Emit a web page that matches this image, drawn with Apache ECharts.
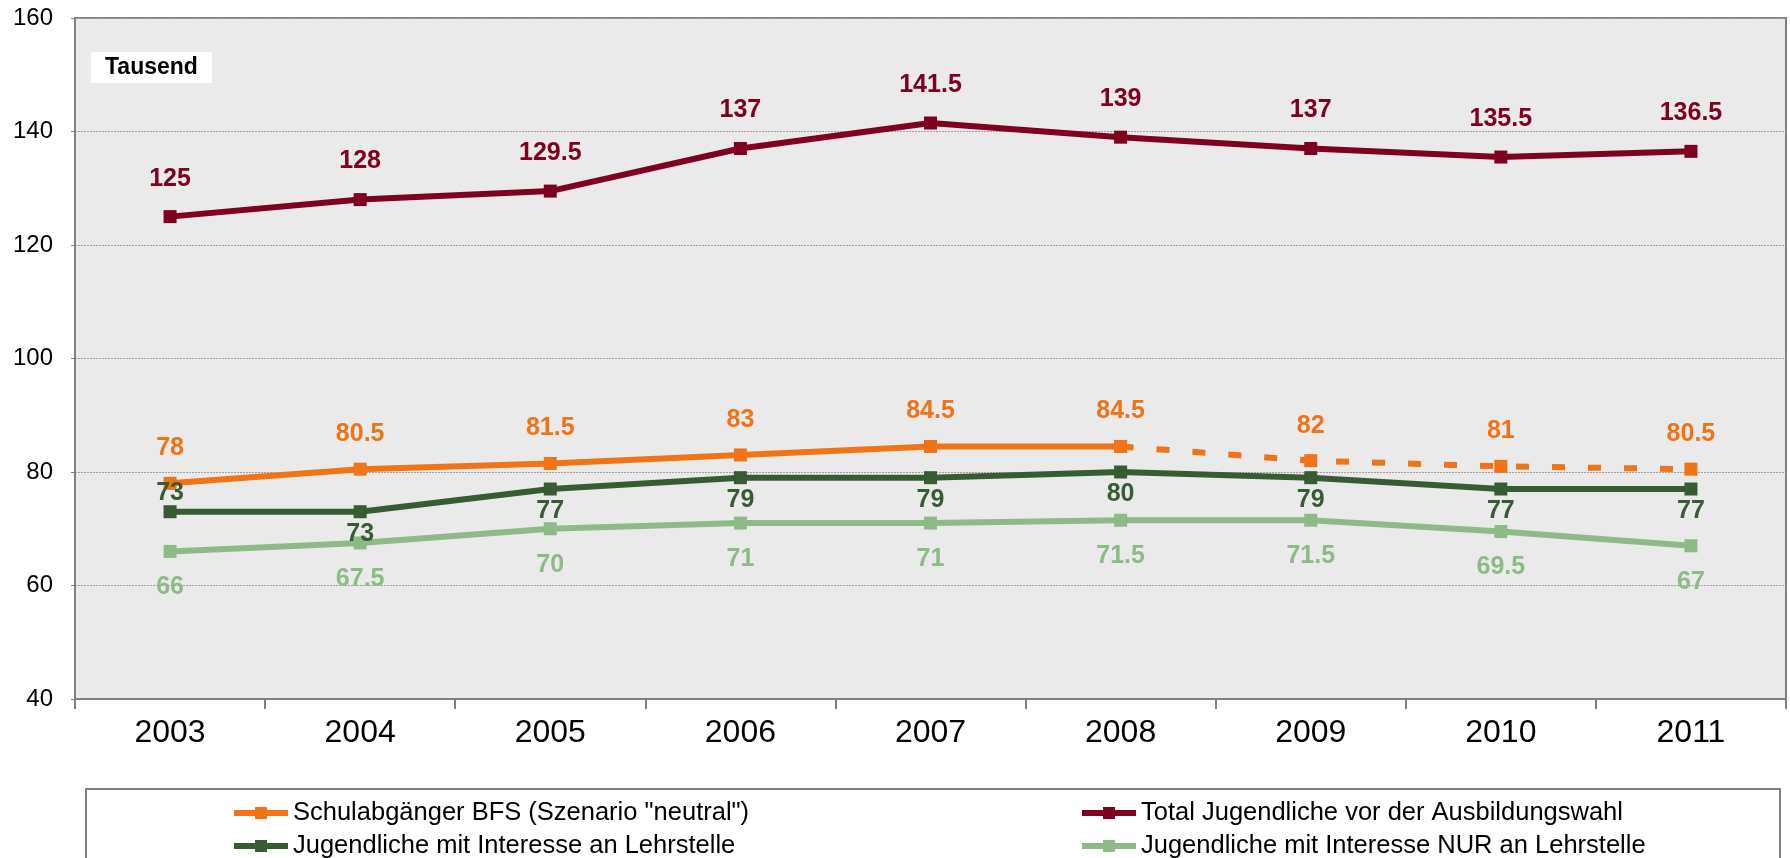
<!DOCTYPE html>
<html>
<head>
<meta charset="utf-8">
<script src="https://cdn.jsdelivr.net/npm/echarts@6/dist/echarts.min.js"></script>
<style>
  html, body { margin: 0; padding: 0; background: #fff; }
  #chart { width: 1790px; height: 858px; }
</style>
</head>
<body>
<div id="chart"></div>
<script>
// Jugendliche vor der Ausbildungswahl, in Tausend
const jahre = ['2003', '2004', '2005', '2006', '2007', '2008', '2009', '2010', '2011'];
const schulabgaenger = [78, 80.5, 81.5, 83, 84.5, 84.5, 82, 81, 80.5];
const totalJugendliche = [125, 128, 129.5, 137, 141.5, 139, 137, 135.5, 136.5];
const interesseLehrstelle = [73, 73, 77, 79, 79, 80, 79, 77, 77];
const interesseNurLehrstelle = [66, 67.5, 70, 71, 71, 71.5, 71.5, 69.5, 67];
const letztesIst = 5; // ab 2008 Szenario (gestrichelt)

const namen = {
  schul: 'Schulabgänger BFS (Szenario "neutral")',
  total: 'Total Jugendliche vor der Ausbildungswahl',
  lehr: 'Jugendliche mit Interesse an Lehrstelle',
  nur: 'Jugendliche mit Interesse NUR an Lehrstelle'
};
const farben = { schul: '#F07318', total: '#800020', lehr: '#375C34', nur: '#8DBA87' };
const font = "'Liberation Sans', Arial, sans-serif";

const chart = echarts.init(document.getElementById('chart'));

const basis = (key, position, distance) => ({
  type: 'line',
  name: namen[key],
  symbol: 'rect',
  symbolSize: 13,
  showAllSymbol: true,
  color: farben[key],
  lineStyle: { width: 6, color: farben[key] },
  itemStyle: { color: farben[key] },
  label: {
    show: true,
    position: position,
    distance: distance,
    fontFamily: font,
    fontSize: 25,
    fontWeight: 'bold',
    color: farben[key]
  },
  animation: false
});

// je ein Legendeneintrag, damit die Anordnung 2x2 wie im Original bleibt
const legende = (name, left, top) => ({
  left: left,
  top: top,
  data: [name],
  itemWidth: 54,
  itemHeight: 15,
  lineStyle: { width: 6 },
  textStyle: { fontFamily: font, fontSize: 25.5, color: '#000', lineHeight: 26 }
});

const option = {
  backgroundColor: '#fff',
  title: {
    text: 'Tausend',
    left: 91,
    top: 52,
    padding: [4, 14],
    backgroundColor: '#fff',
    textStyle: { fontFamily: font, fontSize: 23, fontWeight: 'bold', color: '#000' }
  },
  grid: {
    left: 75, right: 4, top: 18, bottom: 159,
    show: true,
    backgroundColor: '#EAEAEA',
    borderColor: '#808080',
    borderWidth: 2
  },
  graphic: [{
    type: 'rect',
    shape: { x: 86, y: 789, width: 1694, height: 100 },
    style: { fill: '#fff', stroke: '#808080', lineWidth: 2 },
    z: -1
  }],
  legend: [
    legende(namen.schul, 226, 795),
    legende(namen.lehr, 226, 828),
    legende(namen.total, 1074, 795),
    legende(namen.nur, 1074, 828)
  ],
  xAxis: {
    type: 'category',
    data: jahre,
    boundaryGap: true,
    axisLine: { lineStyle: { color: '#808080', width: 2 } },
    axisTick: { show: true, length: 10, lineStyle: { color: '#808080', width: 2 } },
    axisLabel: { fontFamily: font, fontSize: 32, color: '#000', margin: 18 }
  },
  yAxis: {
    type: 'value',
    min: 40,
    max: 160,
    interval: 20,
    axisLine: { show: true, lineStyle: { color: '#808080', width: 2 } },
    axisTick: { show: true, length: 4, lineStyle: { color: '#808080' } },
    axisLabel: { fontFamily: font, fontSize: 24, color: '#000', margin: 22 },
    splitLine: { lineStyle: { color: '#A0A0A0', width: 1, type: [2, 1] } }
  },
  series: [
    Object.assign(basis('lehr', 'bottom', 3), {
      data: interesseLehrstelle.map((v, i) => i === 0
        ? { value: v, label: { position: 'top', distance: 0 } }
        : v)
    }),
    Object.assign(basis('nur', 'bottom', 17), {
      data: interesseNurLehrstelle
    }),
    Object.assign(basis('schul', 'top', 16), {
      data: schulabgaenger.map((v, i) => (i <= letztesIst ? v : null))
    }),
    Object.assign(basis('schul', 'top', 16), {
      data: schulabgaenger.map((v, i) => (i >= letztesIst ? v : null)),
      lineStyle: { width: 6, color: farben.schul, type: [13, 23] }
    }),
    Object.assign(basis('total', 'top', 19), {
      data: totalJugendliche
    })
  ]
};
// im gestrichelten Teil den Wert 2008 nicht doppelt beschriften
option.series[3].label.formatter = (p) => (p.dataIndex > letztesIst ? String(p.value) : '');

chart.setOption(option);
</script>
</body>
</html>
